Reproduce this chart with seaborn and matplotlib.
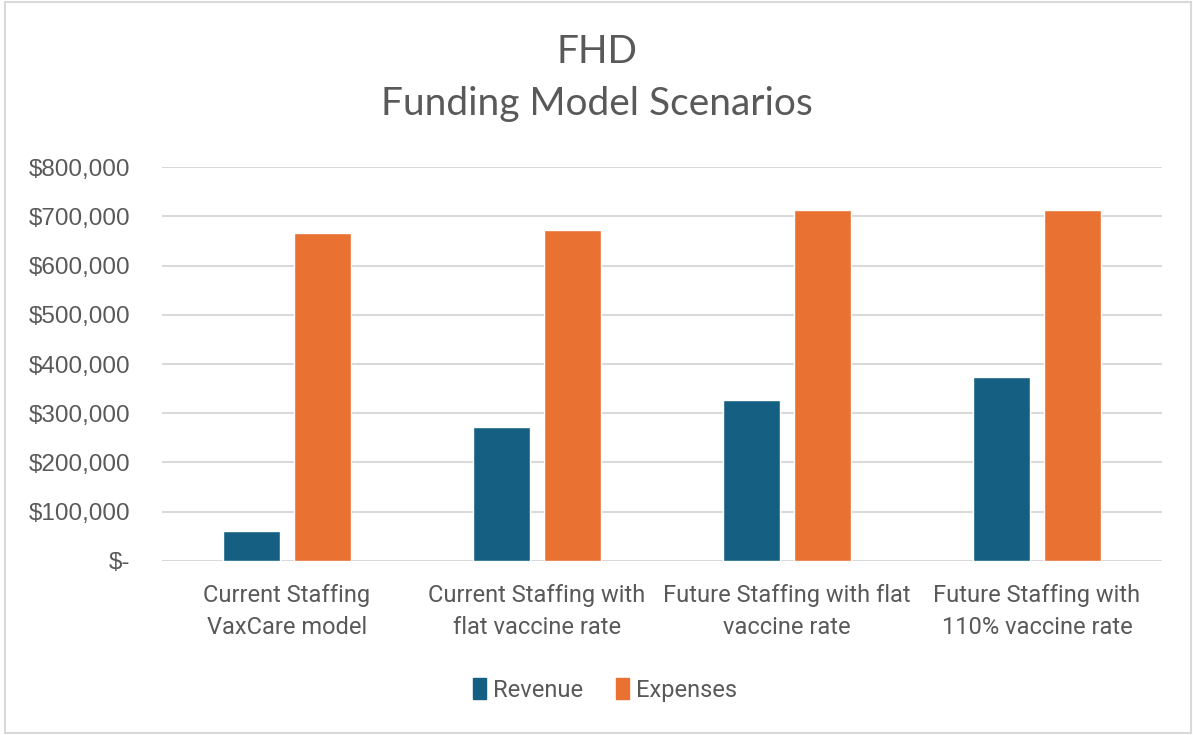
import numpy as np
import pandas as pd
import matplotlib.pyplot as plt
import matplotlib.patches as mpatches
from matplotlib.ticker import FuncFormatter
import seaborn as sns

# Data
scenarios = ['Current Staffing\nVaxCare model',
             'Current Staffing with\nflat vaccine rate',
             'Future Staffing with flat\nvaccine rate',
             'Future Staffing with\n110% vaccine rate']
revenue = [61000, 272000, 327000, 374000]
expenses = [666000, 672000, 713000, 713000]
series = ['Revenue', 'Expenses']
colors = ['#156082', '#E97132']
y_ticks = [0, 100000, 200000, 300000, 400000, 500000, 600000, 700000, 800000]

df = pd.DataFrame({'Scenario': scenarios * 2,
                   'Series': ['Revenue'] * 4 + ['Expenses'] * 4,
                   'Amount': revenue + expenses})

sns.set_style('white')
text_color = '#595959'

fig = plt.figure(figsize=(11.93, 7.35), dpi=100)
ax = fig.add_axes([162 / 1193, 1 - 560.7 / 735, 1000 / 1193, (560.7 - 167.3) / 735])

sns.barplot(data=df, x='Scenario', y='Amount', hue='Series', hue_order=series,
            palette=colors, width=0.568, gap=0.21, saturation=1, ax=ax, legend=False)

ax.set_ylim(0, 800000)
ax.set_xlim(-0.5, 3.5)
ax.set_yticks(y_ticks)
ax.yaxis.set_major_formatter(FuncFormatter(lambda v, p: '$-' if v == 0 else f'${v:,.0f}'))
ax.grid(axis='y', color='#D9D9D9', linewidth=1.5)
ax.set_axisbelow(True)
for s in ax.spines.values():
    s.set_visible(False)
ax.set_xlabel('')
ax.set_ylabel('')
ax.tick_params(axis='y', length=0, pad=23, labelsize=17.5, labelcolor=text_color)
ax.tick_params(axis='x', length=0, pad=17, labelsize=17, labelcolor=text_color)
for lbl in ax.get_yticklabels():
    lbl.set_fontfamily('Liberation Sans')
for lbl in ax.get_xticklabels():
    lbl.set_fontfamily('Roboto')
    lbl.set_linespacing(1.5)

# title
fig.text(0.5, 1 - 52 / 735, 'FHD', ha='center', va='center', fontsize=28,
         color=text_color, family='Lato')
fig.text(0.5, 1 - 104 / 735, 'Funding Model Scenarios', ha='center', va='center',
         fontsize=28, color=text_color, family='Lato')

# legend
handles = [mpatches.Patch(color=c, label=s) for s, c in zip(series, colors)]
fig.legend(handles=handles, loc='center', bbox_to_anchor=(605 / 1193, 1 - 690 / 735),
           ncol=2, frameon=False, prop={'family': 'Roboto', 'size': 17},
           labelcolor=text_color, handlelength=0.55, handleheight=1.0,
           handletextpad=0.3, columnspacing=1.4)

# chart border
fig.patches.append(mpatches.Rectangle((5 / 1193, 2 / 735), 1186 / 1193, 731 / 735,
                                      transform=fig.transFigure, fill=False,
                                      edgecolor='#D9D9D9', linewidth=1.5))

fig.savefig('out.png', dpi=100)
